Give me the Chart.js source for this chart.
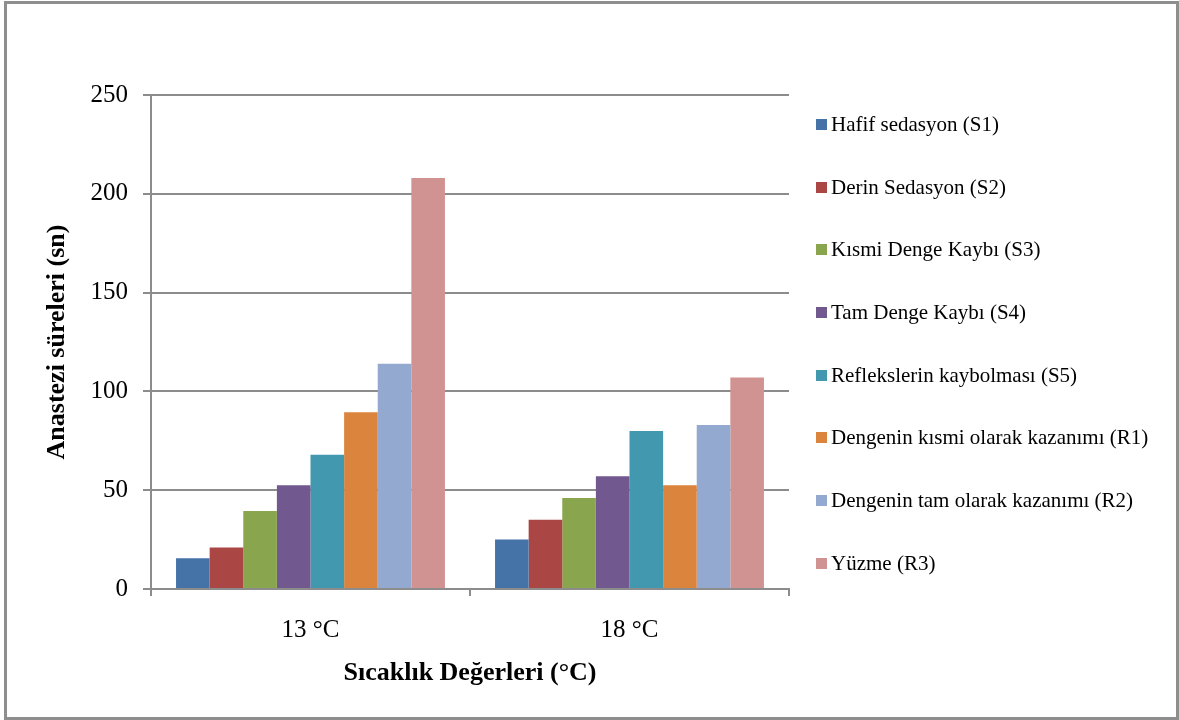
<!DOCTYPE html>
<html>
<head>
<meta charset="utf-8">
<script src="https://cdn.jsdelivr.net/npm/chart.js@4/dist/chart.umd.min.js"></script>
<style>
  html, body { margin: 0; padding: 0; background: #fff; }
  #wrap { position: relative; width: 1179px; height: 720px; }
  #frame { position: absolute; left: 4px; top: 1px; width: 1175px; height: 719px; box-sizing: border-box; border: 3px solid #8e8e8e; pointer-events: none; }
  #legend { position: absolute; left: 816px; top: 93px; font-family: 'Liberation Serif', 'Times New Roman', serif; font-size: 21px; color: #000; }
  #legend .item { height: 62.7px; display: flex; align-items: center; white-space: nowrap; }
  #legend .box { width: 11px; height: 11px; margin-right: 4px; }
</style>
</head>
<body>
<div id="wrap">
  <canvas id="graphChart" width="1179" height="720"></canvas>
  <div id="legend"></div>
  <div id="frame"></div>
</div>
<script>
// categories and series
const categories = ["13 °C", "18 °C"];
const seriesNames = [
    "Hafif sedasyon (S1)",
    "Derin Sedasyon (S2)",
    "Kısmi Denge Kaybı (S3)",
    "Tam Denge Kaybı (S4)",
    "Reflekslerin kaybolması (S5)",
    "Dengenin kısmi olarak kazanımı (R1)",
    "Dengenin tam olarak kazanımı (R2)",
    "Yüzme (R3)"
];
const s1 = [15.5, 25];
const s2 = [21, 35];
const s3 = [39.5, 46];
const s4 = [52.5, 57];
const s5 = [68, 80];
const r1 = [89.5, 52.5];
const r2 = [114, 83];
const r3 = [208, 107];
const yTicks = [0, 50, 100, 150, 200, 250];

const colors = ['#4572A7', '#AA4643', '#89A54E', '#71588F', '#4198AF', '#DB843D', '#93A9CF', '#D19392'];
const seriesValues = [s1, s2, s3, s4, s5, r1, r2, r3];

const serif = "'Liberation Serif', 'Times New Roman', serif";
const gray = '#8c8c8c';

//legend built as html so the spacing matches the excel one
const htmlLegend = {
    id: 'htmlLegend',
    afterUpdate(chart) {
        const box = document.getElementById('legend');
        box.innerHTML = '';
        const items = Chart.defaults.plugins.legend.labels.generateLabels(chart);
        items.forEach(it => {
            const row = document.createElement('div');
            row.className = 'item';
            const sw = document.createElement('span');
            sw.className = 'box';
            sw.style.background = it.fillStyle;
            const txt = document.createElement('span');
            txt.textContent = it.text;
            row.appendChild(sw);
            row.appendChild(txt);
            box.appendChild(row);
        });
    }
};

const data = {
    labels: categories,
    datasets: seriesNames.map((name, i) => ({
        label: name,
        data: seriesValues[i],
        backgroundColor: colors[i],
        borderWidth: 0,
        categoryPercentage: 0.843,
        barPercentage: 1.0
    }))
};

const config = {
    type: 'bar',
    data: data,
    options: {
        responsive: false,
        animation: false,
        layout: { padding: { left: 20, right: 390, top: 95, bottom: 31 } },
        plugins: {
            legend: { display: false },
            tooltip: { enabled: false }
        },
        scales: {
            x: {
                grid: { display: true, drawOnChartArea: false, drawTicks: true, tickLength: 7, offset: true, color: gray, lineWidth: 2 },
                border: { display: true, color: gray, width: 2 },
                ticks: { color: '#000', padding: 19, font: { family: serif, size: 25 } },
                title: { display: true, text: 'Sıcaklık Değerleri (°C)', color: '#000', padding: { top: 0, bottom: 0 }, font: { family: serif, size: 26, weight: 'bold' } },
                afterFit: (s) => { s.height = 100; }
            },
            y: {
                min: 0,
                max: 250,
                afterBuildTicks: (s) => { s.ticks = yTicks.map(v => ({ value: v })); },
                grid: { color: gray, lineWidth: 2, tickLength: 8 },
                border: { display: true, color: gray, width: 2 },
                ticks: { color: '#000', padding: 15, font: { family: serif, size: 25 } },
                title: { display: true, text: 'Anastezi süreleri (sn)', color: '#000', padding: { top: 22, bottom: 0 }, font: { family: serif, size: 26, weight: 'bold' } },
                afterFit: (s) => { s.width = 131; }
            }
        }
    },
    plugins: [htmlLegend]
};

const ctx = document.getElementById('graphChart').getContext('2d');
const graphChart = new Chart(ctx, config);
</script>
</body>
</html>
